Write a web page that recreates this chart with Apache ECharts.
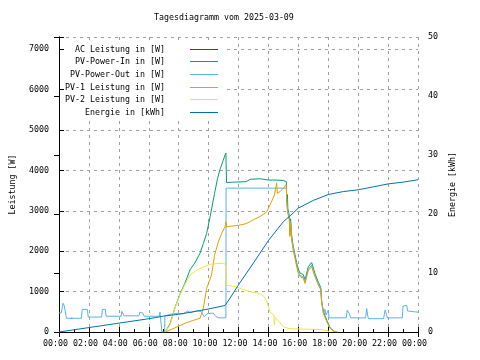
<!DOCTYPE html>
<html><head><meta charset="utf-8">
<script src="https://cdn.jsdelivr.net/npm/echarts@6/dist/echarts.min.js"></script>
<style>html,body{margin:0;padding:0;background:#fff}#c{width:480px;height:360px}</style>
</head><body><div id="c"></div>
<script>
const chartTitle = 'Tagesdiagramm vom 2025-03-09';
const seriesNames = ['AC Leistung in [W]', 'PV-Power-In in [W]', 'PV-Power-Out in [W]', 'PV-1 Leistung in [W]', 'PV-2 Leistung in [W]', 'Energie in [kWh]'];
const seriesColors = ['#9400d3', '#009e73', '#56b4e9', '#e69f00', '#f0e442', '#0072b2'];
const xTickLabels = ['00:00','02:00','04:00','06:00','08:00','10:00','12:00','14:00','16:00','18:00','20:00','22:00','00:00'];
const leftAxisName = 'Leistung [W]';
const rightAxisName = 'Energie [kWh]';

// AC Leistung [W] (mostly hidden under PV-Power-Out)
const acT = [0.8, 0.9];
const acV = [340, 340];

// PV-Power-Out [W], time in hours
const outT = [0,0.15,0.27,0.35,0.5,1.5,1.55,1.9,1.95,2.85,2.9,3.1,3.15,4.15,4.2,4.3,4.35,5.35,5.4,5.6,5.7,6.7,6.75,6.85,6.88,7.06,7.08,7.5,7.75,8.0,8.3,8.6,8.8,9.2,9.5,9.7,9.9,10.3,10.5,10.7,11.16,11.17,15.2,15.22,15.3,15.4,15.44,15.48,15.56,15.66,15.78,15.89,16.0,16.11,16.33,16.45,16.67,16.89,17.11,17.34,17.5,17.56,17.7,17.78,17.85,18.0,18.05,19.2,19.27,19.4,19.5,20.5,20.57,20.65,20.7,21.7,21.8,21.9,21.95,22.95,23.0,23.25,23.3,23.35,24];
const outV = [470,470,710,650,340,340,560,560,370,370,560,560,390,390,510,510,400,400,490,470,390,390,490,490,0,0,400,440,460,460,450,520,480,520,510,380,450,470,380,350,350,3560,3560,3230,2980,2800,2400,2740,2300,2060,1850,1650,1490,1400,1360,1230,1560,1650,1400,1190,1070,740,450,560,420,540,350,350,540,460,350,350,580,380,330,330,540,430,350,350,640,660,520,490,490];

// PV-Power-In [W]
const inT = [7.1,7.42,7.75,8.08,8.4,8.76,9.1,9.43,9.65,9.87,10.1,10.4,10.6,10.76,10.98,11.1,11.16,11.17,11.2,11.8,12.5,12.8,13.5,14.0,14.5,15.0,15.2,15.22,15.27,15.3,15.4,15.44,15.48,15.56,15.66,15.78,15.89,16.0,16.11,16.33,16.45,16.67,16.89,17.11,17.34,17.5,17.56,17.67,17.9,18.12,18.34,18.5];
const inV = [0,200,600,930,1190,1540,1720,1950,2190,2440,2850,3430,3800,4020,4250,4380,4430,4170,3700,3710,3720,3780,3790,3760,3760,3750,3720,3290,3400,3050,2880,2460,2800,2360,2120,1910,1710,1550,1460,1420,1290,1620,1720,1450,1230,1100,770,510,290,110,30,0];

// PV-1 Leistung [W]
const pv1T = [7.1,7.5,8.08,8.5,9.0,9.43,9.65,9.87,10.2,10.4,10.65,10.87,11.1,11.16,11.2,11.5,12.0,12.5,12.76,13.0,13.4,13.7,13.9,14.05,14.2,14.4,14.5,14.55,14.6,14.77,15.0,15.1,15.18,15.2,15.22,15.3,15.4,15.44,15.48,15.56,15.66,15.78,15.89,16.0,16.11,16.33,16.45,16.67,16.89,17.11,17.34,17.5,17.56,17.67,17.9,18.12,18.34,18.65];
const pv1V = [0,60,160,230,290,340,590,1080,1410,1900,2230,2440,2600,2730,2600,2620,2640,2680,2730,2780,2850,2920,2980,3100,3220,3390,3420,3690,3430,3470,3560,3590,3650,3600,3180,2930,2770,2360,2700,2270,2030,1820,1615,1450,1370,1330,1200,1530,1615,1370,1160,1040,710,460,255,90,20,0];

// PV-2 Leistung [W]
const pv2T = [7.1,7.42,7.75,8.08,8.4,8.76,9.1,9.43,9.8,10.1,10.5,10.76,11.0,11.16,11.18,11.8,12.3,12.77,13.4,13.7,13.9,14.1,14.37,14.4,14.45,14.72,15.0,15.33,15.5,16.5,17.5,17.55,18.0,18.02];
const pv2V = [0,170,590,915,1160,1410,1500,1575,1630,1675,1690,1700,1700,1660,1160,1120,1050,1000,950,880,750,500,420,170,370,250,130,90,80,70,60,30,30,0];

// Energie [kWh]
const enT = [0,2,4,6,7,8,10,11.1,11.4,12,13,14,15,15.5,16,17,18,19,20,21,22,23,24];
const enV = [0,0.75,1.5,2.25,2.7,3.0,3.9,4.5,5.6,8.0,11.7,15.5,18.7,19.8,21.0,22.3,23.3,23.8,24.1,24.6,25.1,25.4,25.8];

const seriesT = [acT, inT, outT, pv1T, pv2T, enT];
const seriesV = [acV, inV, outV, pv1V, pv2V, enV];

const FONT = 'DejaVu Sans Mono';
const FS = 8.3;
const legendRowCenters = [49, 61, 74, 87, 99, 112];

const chart = echarts.init(document.getElementById('c'), null, {renderer: 'canvas'});
const zip = (t, v) => t.map((x, i) => [x, v[i]]);

const gridLine = {show: true, lineStyle: {color: '#a0a0a0', type: [3, 4], width: 1}};
const blackLine = {show: true, lineStyle: {color: '#000', width: 1}};
const txt = {color: '#000', fontFamily: FONT, fontSize: FS};

const option = {
  animation: false,
  backgroundColor: '#fff',
  title: {text: chartTitle, left: 154, top: 14, padding: 0,
    textStyle: {color: '#000', fontFamily: FONT, fontSize: FS, fontWeight: 'normal'}},
  // opaque key box (hides grid lines behind the legend, as in the original)
  graphic: [{type: 'rect', z: 1, silent: true,
    shape: {x: 65, y: 43, width: 158, height: 77}, style: {fill: '#fff'}}],
  legend: seriesNames.map((n, i) => ({
    data: [n], right: 262, top: legendRowCenters[i] - 5, padding: 0, z: 5,
    align: 'right', icon: 'rect', itemWidth: 28, itemHeight: 1, selectedMode: false,
    itemStyle: {color: seriesColors[i], borderWidth: 0},
    formatter: s => s + '    ',
    textStyle: Object.assign({lineHeight: 11}, txt)
  })),
  grid: {left: 59, right: 62, top: 37, bottom: 28, containLabel: false},
  xAxis: [{
    type: 'value', min: 0, max: 24, interval: 2, position: 'bottom',
    axisLine: blackLine,
    axisTick: {show: true, inside: true, length: 5, lineStyle: {color: '#000'}},
    minorTick: {show: true, splitNumber: 2, length: 3, lineStyle: {color: '#000'}},
    splitLine: gridLine,
    axisLabel: Object.assign({margin: 8, padding: [0, 7, 0, 0], formatter: v => xTickLabels[Math.round(v / 2)]}, txt)
  }, {
    type: 'value', min: 0, max: 24, interval: 2, position: 'top',
    axisLine: blackLine,
    axisTick: {show: true, inside: true, length: 5, lineStyle: {color: '#000'}},
    axisLabel: {show: false}, splitLine: {show: false}
  }],
  yAxis: [{
    type: 'value', min: 0, max: 7300, interval: 1000, position: 'left',
    name: leftAxisName, nameLocation: 'middle', nameRotate: 90, nameGap: 42,
    nameTextStyle: txt,
    axisLine: blackLine,
    axisTick: {show: true, inside: true, length: 5, lineStyle: {color: '#000'}},
    splitLine: gridLine,
    axisLabel: Object.assign({margin: 10, formatter: v => (v % 1000 === 0 ? String(v) : '')}, txt)
  }, {
    type: 'value', min: 0, max: 50, interval: 10, position: 'right',
    name: rightAxisName, nameLocation: 'middle', nameRotate: 90, nameGap: 30,
    nameTextStyle: txt,
    axisLine: blackLine,
    axisTick: {show: true, inside: true, length: 5, lineStyle: {color: '#000'}},
    splitLine: {show: false},
    axisLabel: Object.assign({margin: 10}, txt)
  }],
  series: seriesNames.map((n, i) => ({
    name: n, type: 'line', xAxisIndex: 0, yAxisIndex: i === 5 ? 1 : 0,
    data: zip(seriesT[i], seriesV[i]),
    showSymbol: false, symbol: 'none', color: seriesColors[i],
    lineStyle: {width: 1, color: seriesColors[i]}, z: 3 + i
  }))
};
chart.setOption(option);
</script></body></html>
